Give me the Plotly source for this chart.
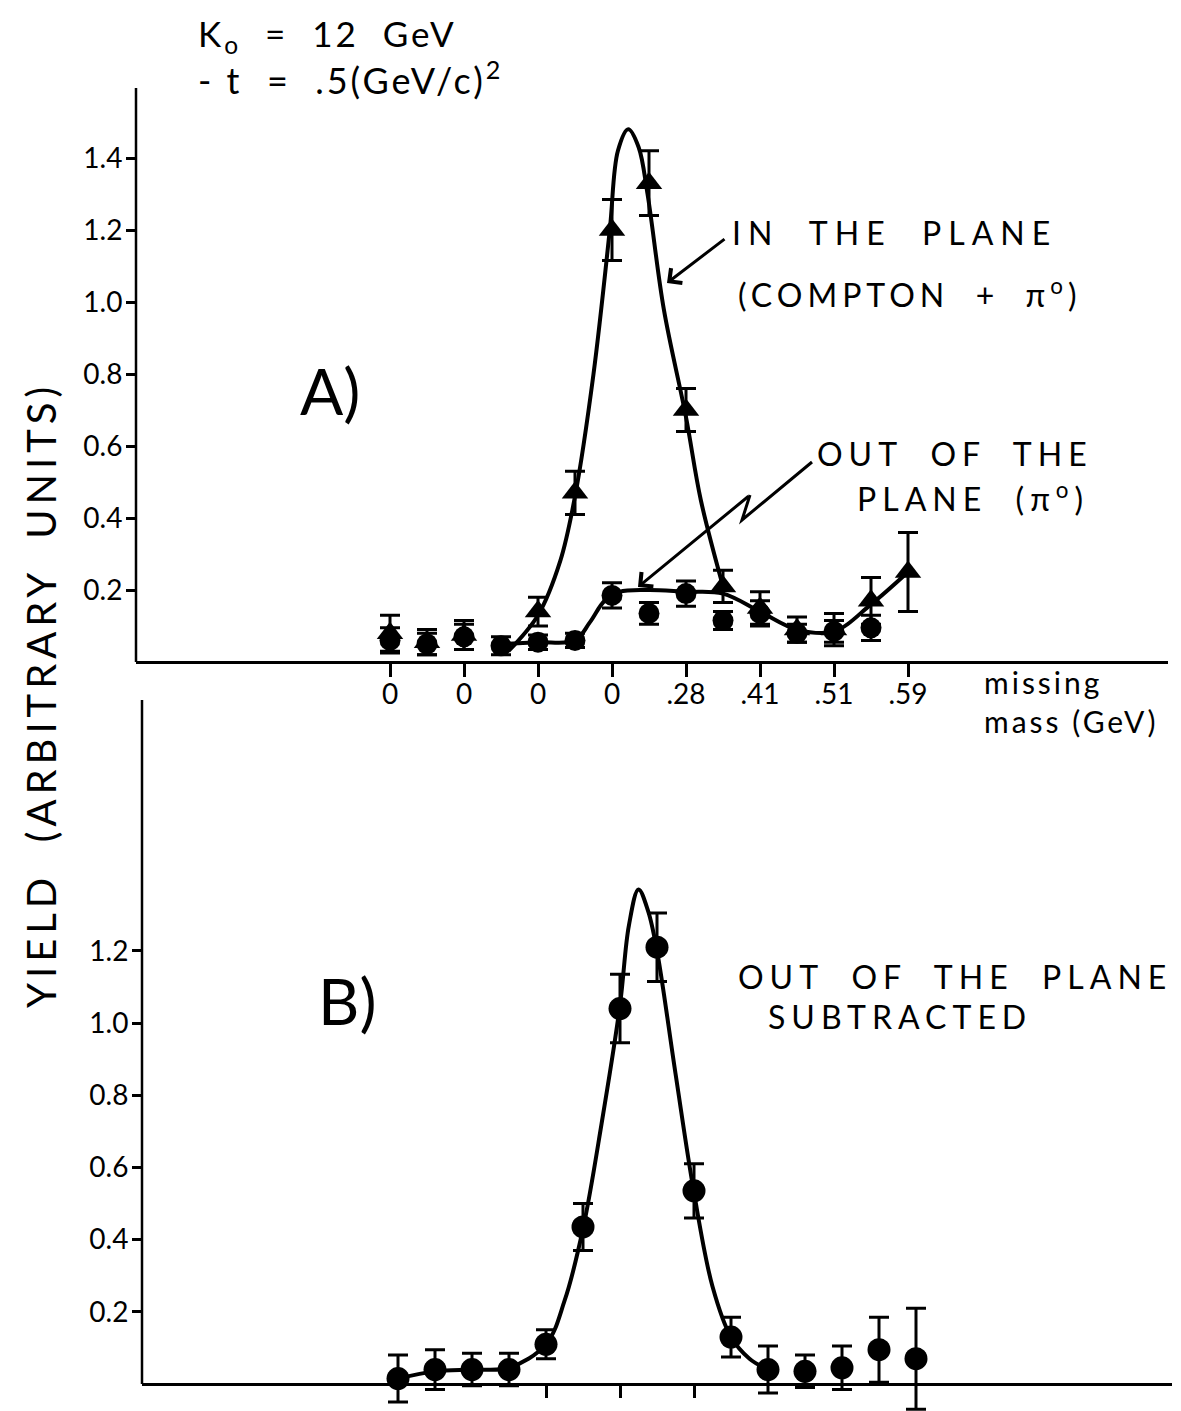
import plotly.graph_objects as go

# page body has an 8px margin: build the figure 8px smaller and shift coordinates
OFF = 8
W, H = 1181 - OFF, 1411 - OFF
FONT = "Lato"

# ---------------- data ----------------
# Panel A: x = scan position index (tick labels show missing mass, GeV)
tick_pos = [0, 1, 2, 3, 4, 5, 6, 7]
tick_labels = ["0", "0", "0", "0", ".28", ".41", ".51", ".59"]

# In the plane (Compton + pi0) : triangles
tri_x = [0, 0.5, 1, 2, 2.5, 3, 3.5, 4, 4.5, 5, 5.5, 6, 6.5, 7]
tri_y = [0.08, 0.055, 0.075, 0.14, 0.47, 1.2, 1.33, 0.70, 0.21, 0.15, 0.09, 0.09, 0.17, 0.25]
tri_err = [0.05, 0.035, 0.04, 0.04, 0.06, 0.085, 0.09, 0.06, 0.045, 0.045, 0.035, 0.045, 0.065, 0.11]

# Out of the plane (pi0) : circles
circ_x = [0, 0.5, 1, 1.5, 2, 2.5, 3, 3.5, 4, 4.5, 5, 5.5, 6, 6.5]
circ_y = [0.06, 0.05, 0.07, 0.045, 0.055, 0.06, 0.185, 0.135, 0.19, 0.115, 0.135, 0.08, 0.085, 0.095]
circ_err = [0.035, 0.03, 0.035, 0.025, 0.02, 0.02, 0.035, 0.03, 0.035, 0.025, 0.035, 0.025, 0.03, 0.035]

# hand-drawn curves of panel A
inplane_cx = [1.6, 2.0, 2.3, 2.5, 2.75, 2.97, 3.08, 3.22, 3.36, 3.48, 3.7, 4.0, 4.2, 4.5]
inplane_cy = [0.03, 0.13, 0.28, 0.46, 0.80, 1.20, 1.42, 1.48, 1.43, 1.30, 0.98, 0.68, 0.45, 0.21]
outplane_cx = [1.5, 2.0, 2.5, 2.7, 2.9, 3.1, 3.5, 4.0, 4.5, 5.0, 5.5, 6.0, 6.5, 7.0]
outplane_cy = [0.05, 0.055, 0.06, 0.11, 0.17, 0.195, 0.2, 0.195, 0.19, 0.14, 0.09, 0.085, 0.16, 0.25]

# Panel B: out of the plane subtracted
sub_x = [0, 0.5, 1, 1.5, 2, 2.5, 3, 3.5, 4, 4.5, 5, 5.5, 6, 6.5, 7]
sub_y = [0.015, 0.04, 0.04, 0.04, 0.11, 0.435, 1.04, 1.21, 0.535, 0.13, 0.04, 0.035, 0.045, 0.095, 0.07]
sub_err = [0.065, 0.055, 0.045, 0.045, 0.04, 0.065, 0.095, 0.095, 0.075, 0.055, 0.065, 0.045, 0.06, 0.09, 0.14]
subcurve_x = [0, 0.5, 1, 1.5, 2, 2.25, 2.5, 2.75, 3.0, 3.12, 3.25, 3.38, 3.5, 3.75, 4.0, 4.25, 4.5, 4.75, 5.0]
subcurve_y = [0.015, 0.035, 0.04, 0.045, 0.11, 0.23, 0.43, 0.72, 1.05, 1.27, 1.37, 1.31, 1.2, 0.86, 0.53, 0.27, 0.13, 0.07, 0.04]

yticks_a = [0.2, 0.4, 0.6, 0.8, 1.0, 1.2, 1.4]
yticks_a_text = ["0.2", "0.4", "0.6", "0.8", "1.0", "1.2", "1.4"]
yticks_b = [0.2, 0.4, 0.6, 0.8, 1.0, 1.2]
yticks_b_text = ["0.2", "0.4", "0.6", "0.8", "1.0", "1.2"]
xticks_b = [2, 3, 4]


def px(x):
    return (x - OFF) / W


def py(y):
    return 1 - (y - OFF) / H


# ---------------- geometry (reference pixels) ----------------
A_left, A_right, A_x0, A_ux = 136, 1168, 390, 74
A_top, A_bot, A_zero, A_uy = 88, 700, 662, 360
B_left, B_right, B_x0, B_ux = 142, 1172, 398, 74
B_top, B_bot, B_zero, B_uy = 700, 1411, 1384, 361

fig = go.Figure()

LW = 4
common_err = dict(type="data", visible=True, color="black", thickness=3, width=10)

fig.add_trace(go.Scatter(x=inplane_cx, y=inplane_cy, mode="lines",
                         line=dict(color="black", width=LW, shape="spline", smoothing=1.0),
                         xaxis="x", yaxis="y", hoverinfo="skip"))
fig.add_trace(go.Scatter(x=outplane_cx, y=outplane_cy, mode="lines",
                         line=dict(color="black", width=LW, shape="spline", smoothing=1.0),
                         xaxis="x", yaxis="y", hoverinfo="skip"))
fig.add_trace(go.Scatter(x=circ_x, y=circ_y, mode="markers",
                         marker=dict(symbol="circle", size=21, color="black"),
                         error_y=dict(array=circ_err, **common_err),
                         xaxis="x", yaxis="y", cliponaxis=False))
fig.add_trace(go.Scatter(x=tri_x, y=tri_y, mode="markers",
                         marker=dict(symbol="triangle-up", size=23, color="black"),
                         error_y=dict(array=tri_err, **common_err),
                         xaxis="x", yaxis="y", cliponaxis=False))

fig.add_trace(go.Scatter(x=subcurve_x, y=subcurve_y, mode="lines",
                         line=dict(color="black", width=LW, shape="spline", smoothing=1.0),
                         xaxis="x2", yaxis="y2", hoverinfo="skip"))
fig.add_trace(go.Scatter(x=sub_x, y=sub_y, mode="markers",
                         marker=dict(symbol="circle", size=23, color="black"),
                         error_y=dict(array=sub_err, **common_err),
                         xaxis="x2", yaxis="y2", cliponaxis=False))

tickfont = dict(family=FONT, size=28, color="black")

A_xr = [(A_left - A_x0) / A_ux, (A_right - A_x0) / A_ux]
A_yr = [-(A_bot - A_zero) / A_uy, (A_zero - A_top) / A_uy]
B_xr = [(B_left - B_x0) / B_ux, (B_right - B_x0) / B_ux]
B_yr = [-(B_bot - B_zero) / B_uy, (B_zero - B_top) / B_uy]

fig.update_layout(
    width=W, height=H,
    margin=dict(l=0, r=0, t=0, b=0),
    paper_bgcolor="white", plot_bgcolor="white",
    showlegend=False,
    xaxis=dict(domain=[px(A_left), px(A_right)], range=A_xr, anchor="free", position=py(A_zero),
               showline=True, linecolor="black", linewidth=2.5, showgrid=False, zeroline=False,
               ticks="outside", ticklen=13, tickwidth=2.5, tickcolor="black",
               ticklabelstandoff=-6,
               tickvals=tick_pos, ticktext=tick_labels, tickfont=tickfont),
    yaxis=dict(domain=[py(A_bot), py(A_top)], range=A_yr, anchor="x",
               showline=False, showgrid=False, zeroline=False,
               ticks="outside", ticklen=9, tickwidth=2.5, tickcolor="black",
               ticklabelstandoff=-2,
               tickvals=yticks_a, ticktext=yticks_a_text, tickfont=tickfont),
    yaxis3=dict(overlaying="y", range=A_yr, anchor="x", showline=False, showgrid=False,
                zeroline=False, ticks="inside", ticklen=6, tickwidth=2.5, tickcolor="black",
                tickvals=yticks_a, showticklabels=False),
    xaxis2=dict(domain=[px(B_left), px(B_right)], range=B_xr, anchor="free", position=py(B_zero),
                showline=True, linecolor="black", linewidth=2.5, showgrid=False, zeroline=False,
                ticks="outside", ticklen=12, tickwidth=2.5, tickcolor="black",
                tickvals=xticks_b, showticklabels=False),
    yaxis2=dict(domain=[max(py(B_bot), 0), py(B_top)], range=B_yr, anchor="x2",
                showline=False, showgrid=False, zeroline=False,
                ticks="outside", ticklen=9, tickwidth=2.5, tickcolor="black",
                ticklabelstandoff=-2,
                tickvals=yticks_b, ticktext=yticks_b_text, tickfont=tickfont),
    yaxis4=dict(overlaying="y2", range=B_yr, anchor="x2", showline=False, showgrid=False,
                zeroline=False, ticks="inside", ticklen=6, tickwidth=2.5, tickcolor="black",
                tickvals=yticks_b, showticklabels=False),
)

fig.add_shape(type="line", xref="paper", yref="y", x0=px(A_left), x1=px(A_left),
              y0=0, y1=A_yr[1], line=dict(color="black", width=2.5))
fig.add_shape(type="line", xref="paper", yref="y2", x0=px(B_left), x1=px(B_left),
              y0=0, y1=B_yr[1], line=dict(color="black", width=2.5))


def label(text, x, y, size, spacing=0, anchor="left", angle=0):
    if spacing:
        text = f'<span style="letter-spacing:{spacing}px">{text}</span>'
    fig.add_annotation(text=text, x=px(x), y=py(y), xref="paper", yref="paper",
                       xanchor=anchor, yanchor="middle", showarrow=False, textangle=angle,
                       font=dict(family=FONT, size=size, color="black"))


label("K<sub>o</sub>  =  12  GeV", 196, 36, 35, 3)
label("- t  =  .5(GeV/c)<sup>2</sup>", 196, 78, 36, 3)
label("A)", 298, 390, 64)
label("B)", 316, 1000, 64)
label("IN  THE  PLANE", 730, 232, 32, 7)
label("(COMPTON  +  π<sup>o</sup>)", 736, 293, 32, 5)
label("OUT  OF  THE", 815, 453, 32, 6)
label("PLANE  (π<sup>o</sup>)", 855, 497, 32, 6)
fig.add_annotation(text='<span style="letter-spacing:3px">missing<br>mass (GeV)</span>',
                   x=px(982), y=py(702), xref="paper", yref="paper", xanchor="left",
                   yanchor="middle", align="left", showarrow=False,
                   font=dict(family=FONT, size=30, color="black"))
label("OUT  OF  THE  PLANE", 736, 976, 32, 6)
label("SUBTRACTED", 766, 1016, 32, 6)
label("YIELD  (ARBITRARY  UNITS)", 41, 695, 40, 5, anchor="center", angle=-90)

# arrows
fig.add_annotation(text="", x=px(667), y=py(283), xref="paper", yref="paper",
                   showarrow=True, ax=726 - 667, ay=238 - 283, arrowhead=4, arrowsize=1.2,
                   arrowwidth=3, arrowcolor="black", standoff=0)
fig.add_shape(type="path", xref="paper", yref="paper",
              path=f"M {px(812)},{py(462)} L {px(742)},{py(520)} L {px(750)},{py(495)}",
              line=dict(color="black", width=3))
fig.add_annotation(text="", x=px(638), y=py(587), xref="paper", yref="paper",
                   showarrow=True, ax=750 - 638, ay=495 - 587, arrowhead=4, arrowsize=1.2,
                   arrowwidth=3, arrowcolor="black", standoff=0)

fig.write_html("out.html")
